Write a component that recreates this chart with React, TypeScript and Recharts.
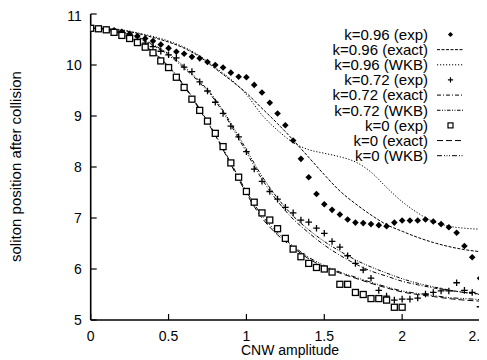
import React from 'react';
import { ComposedChart, Line, Scatter, XAxis, YAxis, Legend } from 'recharts';

// Experimental abscissae (CNW amplitude)
const xExpA = [0, 0.05, 0.1, 0.15, 0.2, 0.25, 0.3, 0.35, 0.4, 0.45, 0.5, 0.55, 0.6, 0.65, 0.7, 0.75, 0.8, 0.85, 0.9, 0.95, 1.0, 1.05, 1.1, 1.15, 1.2, 1.25, 1.3, 1.35, 1.4, 1.45, 1.5, 1.55, 1.6, 1.65, 1.7, 1.75, 1.8, 1.85, 1.9, 1.95, 2.0, 2.05, 2.1, 2.15, 2.2, 2.25, 2.3, 2.35, 2.4, 2.45, 2.5];
const xExpB = [0, 0.05, 0.1, 0.15, 0.2, 0.25, 0.3, 0.35, 0.4, 0.45, 0.5, 0.55, 0.6, 0.65, 0.7, 0.75, 0.8, 0.85, 0.9, 0.95, 1.0, 1.05, 1.1, 1.15, 1.2, 1.25, 1.3, 1.35, 1.4, 1.45, 1.5, 1.55, 1.6, 1.65, 1.7, 1.75, 1.8, 1.85, 1.9, 1.95, 2.0];
// Theory abscissae
const xTheory = [0, 0.1, 0.2, 0.3, 0.4, 0.5, 0.6, 0.7, 0.8, 0.9, 1.0, 1.1, 1.2, 1.3, 1.4, 1.5, 1.6, 1.7, 1.8, 1.9, 2.0, 2.1, 2.2, 2.3, 2.4, 2.5];

const yExp096 = [10.72, 10.71, 10.70, 10.68, 10.65, 10.61, 10.57, 10.52, 10.47, 10.40, 10.33, 10.26, 10.22, 10.16, 10.13, 10.06, 10.00, 9.95, 9.85, 9.77, 9.76, 9.61, 9.46, 9.26, 9.05, 8.82, 8.52, 8.16, 7.80, 7.47, 7.27, 7.16, 7.07, 6.97, 6.91, 6.90, 6.88, 6.86, 6.84, 6.91, 6.95, 6.95, 6.95, 6.97, 6.93, 6.88, 6.82, 6.71, 6.45, 6.23, 5.82];
const yExp072 = [10.72, 10.71, 10.69, 10.66, 10.62, 10.56, 10.50, 10.43, 10.36, 10.27, 10.20, 10.14, 9.96, 9.87, 9.67, 9.49, 9.27, 9.05, 8.80, 8.59, 8.30, 7.96, 7.72, 7.52, 7.37, 7.21, 7.10, 6.96, 6.92, 6.80, 6.70, 6.54, 6.43, 6.26, 6.11, 5.98, 5.82, 5.58, 5.47, 5.39, 5.41, 5.41, 5.43, 5.51, 5.54, 5.57, 5.57, 5.73, 5.58, 5.54, 5.26];
const yExp0 = [10.72, 10.71, 10.69, 10.64, 10.58, 10.52, 10.44, 10.35, 10.24, 10.08, 9.95, 9.76, 9.56, 9.33, 9.11, 8.90, 8.66, 8.40, 8.08, 7.80, 7.52, 7.31, 7.10, 6.96, 6.79, 6.60, 6.39, 6.24, 6.11, 6.03, 6.00, 5.94, 5.70, 5.70, 5.54, 5.50, 5.42, 5.42, 5.39, 5.25, 5.25];

const yExact096 = [10.72, 10.71, 10.68, 10.62, 10.54, 10.45, 10.33, 10.16, 9.93, 9.70, 9.45, 9.15, 8.85, 8.53, 8.19, 7.85, 7.53, 7.28, 7.06, 6.87, 6.74, 6.62, 6.52, 6.44, 6.38, 6.34];
const yWkb096 = [10.72, 10.71, 10.69, 10.63, 10.56, 10.47, 10.35, 10.18, 9.95, 9.72, 9.42, 9.02, 8.72, 8.48, 8.34, 8.27, 8.20, 8.10, 7.90, 7.60, 7.32, 7.10, 6.93, 6.84, 6.80, 6.78];
const yExact072 = [10.72, 10.71, 10.64, 10.53, 10.38, 10.19, 9.94, 9.65, 9.30, 8.82, 8.29, 7.76, 7.33, 6.98, 6.71, 6.47, 6.27, 6.10, 5.96, 5.86, 5.76, 5.69, 5.63, 5.58, 5.54, 5.50];
const yWkb072 = [10.72, 10.71, 10.65, 10.55, 10.40, 10.22, 9.97, 9.68, 9.33, 8.86, 8.34, 7.82, 7.39, 7.04, 6.77, 6.54, 6.35, 6.18, 6.04, 5.92, 5.81, 5.72, 5.65, 5.59, 5.54, 5.51];
const yExact0 = [10.72, 10.70, 10.60, 10.45, 10.25, 9.97, 9.58, 9.12, 8.62, 8.05, 7.48, 7.00, 6.67, 6.42, 6.20, 6.04, 5.92, 5.82, 5.72, 5.63, 5.55, 5.50, 5.46, 5.42, 5.39, 5.37];
const yWkb0 = [10.72, 10.70, 10.61, 10.46, 10.26, 9.98, 9.60, 9.14, 8.64, 8.08, 7.52, 7.05, 6.71, 6.45, 6.23, 6.07, 5.94, 5.84, 5.74, 5.65, 5.57, 5.52, 5.48, 5.44, 5.42, 5.40];

const xTicks = [0, 0.5, 1, 1.5, 2, 2.5];
const yTicks = [5, 6, 7, 8, 9, 10, 11];

const legendLabels = [
  'k=0.96 (exp)', 'k=0.96 (exact)', 'k=0.96 (WKB)',
  'k=0.72 (exp)', 'k=0.72 (exact)', 'k=0.72 (WKB)',
  'k=0 (exp)', 'k=0 (exact)', 'k=0 (WKB)',
];

const zip = (xs: number[], ys: number[]) => xs.map((x, i) => ({ x, y: ys[i] }));

const FONT = '"Liberation Sans", Arial, Helvetica, sans-serif';

const diamondPath = (cx: number, cy: number, r: number) =>
  `M${cx},${cy - r}L${cx + r},${cy}L${cx},${cy + r}L${cx - r},${cy}Z`;

const Diamond = (p: any) => <path d={diamondPath(p.cx, p.cy, 3.3)} fill="#000" />;
const Plus = (p: any) => (
  <path d={`M${p.cx - 3.3},${p.cy}H${p.cx + 3.3}M${p.cx},${p.cy - 3.3}V${p.cy + 3.3}`} stroke="#000" strokeWidth={1.3} fill="none" />
);
const Square = (p: any) => (
  <rect x={p.cx - 3} y={p.cy - 3} width={6} height={6} stroke="#000" strokeWidth={1.3} fill="#fff" />
);

const dashes = {
  exact096: '3 1.5',
  wkb096: '1.2 1.8',
  exact072: '4 2 1 2',
  wkb072: '3.5 1.5 1 1.5 1 1.5',
  exact0: '6 3',
  wkb0: '5 2 1 1.5 1 1.5 1 2',
};

const legendKinds = ['diamond', dashes.exact096, dashes.wkb096, 'plus', dashes.exact072, dashes.wkb072, 'square', dashes.exact0, dashes.wkb0];

const LegendBox = () => {
  const textRight = 140;
  const s0 = 149;
  const s1 = 176;
  const mc = (s0 + s1) / 2;
  return (
    <svg width={200} height={150} style={{ display: 'block', overflow: 'visible' }}>
      {legendLabels.map((lab, i) => {
        const cy = 8.5 + 15.15 * i;
        const k = legendKinds[i];
        let sample: React.ReactNode;
        if (k === 'diamond') sample = <path d={diamondPath(mc, cy, 2.6)} fill="#000" />;
        else if (k === 'plus') sample = <path d={`M${mc - 2.6},${cy}H${mc + 2.6}M${mc},${cy - 2.6}V${cy + 2.6}`} stroke="#000" strokeWidth={1.2} />;
        else if (k === 'square') sample = <rect x={mc - 2.5} y={cy - 2.5} width={5} height={5} stroke="#000" strokeWidth={1.2} fill="#fff" />;
        else sample = <line x1={s0} x2={s1} y1={cy} y2={cy} stroke="#000" strokeWidth={1} strokeDasharray={k} />;
        return (
          <g key={lab}>
            <text x={textRight} y={cy + 5.3} textAnchor="end" fontFamily={FONT} fontSize={15} fill="#000">{lab}</text>
            {sample}
          </g>
        );
      })}
    </svg>
  );
};

const YLabel = () => (
  <text x={7} y={158.5} transform="rotate(-90 7 158.5)" textAnchor="middle" dominantBaseline="central" fontFamily={FONT} fontSize={15} fill="#000">
    soliton position after collision
  </text>
);

const XLabel = () => (
  <text x={282} y={347} textAnchor="middle" fontFamily={FONT} fontSize={14} fill="#000">CNW amplitude</text>
);

const axisStroke = { stroke: '#000', strokeWidth: 1.6 };
const tickStroke = { stroke: '#000', strokeWidth: 1.2 };
const tickStyle = { fontFamily: FONT, fontSize: 14, fill: '#000' };

export default function App() {
  return (
    <ComposedChart width={479} height={352} margin={{ top: 6, right: 7, bottom: 0, left: 0 }}>
      <XAxis
        xAxisId="b"
        dataKey="x"
        type="number"
        domain={[0, 2.5]}
        ticks={xTicks}
        tickFormatter={(v: number) => String(v)}
        orientation="bottom"
        height={40}
        tickSize={-6}
        tickMargin={17}
        axisLine={axisStroke}
        tickLine={tickStroke}
        tick={tickStyle}
        allowDataOverflow
        label={<XLabel />}
      />
      <XAxis
        xAxisId="t"
        dataKey="x"
        type="number"
        domain={[0, 2.5]}
        ticks={xTicks}
        orientation="top"
        height={0}
        tickSize={-6}
        axisLine={axisStroke}
        tickLine={tickStroke}
        tick={false}
        allowDataOverflow
      />
      <YAxis
        yAxisId="l"
        dataKey="y"
        type="number"
        domain={[5, 11]}
        ticks={yTicks}
        orientation="left"
        width={82.7}
        tickSize={-6}
        tickMargin={15}
        axisLine={axisStroke}
        tickLine={tickStroke}
        tick={tickStyle}
        allowDataOverflow
        label={<YLabel />}
      />
      <YAxis
        yAxisId="r"
        dataKey="y"
        type="number"
        domain={[5, 11]}
        ticks={yTicks}
        orientation="right"
        width={0}
        tickSize={-6}
        axisLine={axisStroke}
        tickLine={tickStroke}
        tick={false}
        allowDataOverflow
      />
      <Line xAxisId="b" yAxisId="l" data={zip(xTheory, yExact096)} dataKey="y" type="monotone" stroke="#000" strokeWidth={1} strokeDasharray={dashes.exact096} dot={false} isAnimationActive={false} />
      <Line xAxisId="b" yAxisId="l" data={zip(xTheory, yWkb096)} dataKey="y" type="monotone" stroke="#000" strokeWidth={1} strokeDasharray={dashes.wkb096} dot={false} isAnimationActive={false} />
      <Line xAxisId="b" yAxisId="l" data={zip(xTheory, yExact072)} dataKey="y" type="monotone" stroke="#000" strokeWidth={1} strokeDasharray={dashes.exact072} dot={false} isAnimationActive={false} />
      <Line xAxisId="b" yAxisId="l" data={zip(xTheory, yWkb072)} dataKey="y" type="monotone" stroke="#000" strokeWidth={1} strokeDasharray={dashes.wkb072} dot={false} isAnimationActive={false} />
      <Line xAxisId="b" yAxisId="l" data={zip(xTheory, yExact0)} dataKey="y" type="monotone" stroke="#000" strokeWidth={1} strokeDasharray={dashes.exact0} dot={false} isAnimationActive={false} />
      <Line xAxisId="b" yAxisId="l" data={zip(xTheory, yWkb0)} dataKey="y" type="monotone" stroke="#000" strokeWidth={1} strokeDasharray={dashes.wkb0} dot={false} isAnimationActive={false} />
      <Scatter xAxisId="b" yAxisId="l" data={zip(xExpA, yExp096)} dataKey="y" shape={Diamond} isAnimationActive={false} />
      <Scatter xAxisId="b" yAxisId="l" data={zip(xExpA, yExp072)} dataKey="y" shape={Plus} isAnimationActive={false} />
      <Scatter xAxisId="b" yAxisId="l" data={zip(xExpB, yExp0)} dataKey="y" shape={Square} isAnimationActive={false} />
      <Legend
        layout="vertical"
        align="center"
        verticalAlign="middle"
        content={() => <LegendBox />}
        wrapperStyle={{ left: 280, top: 18, width: 200, height: 150, pointerEvents: 'none' }}
      />
    </ComposedChart>
  );
}
